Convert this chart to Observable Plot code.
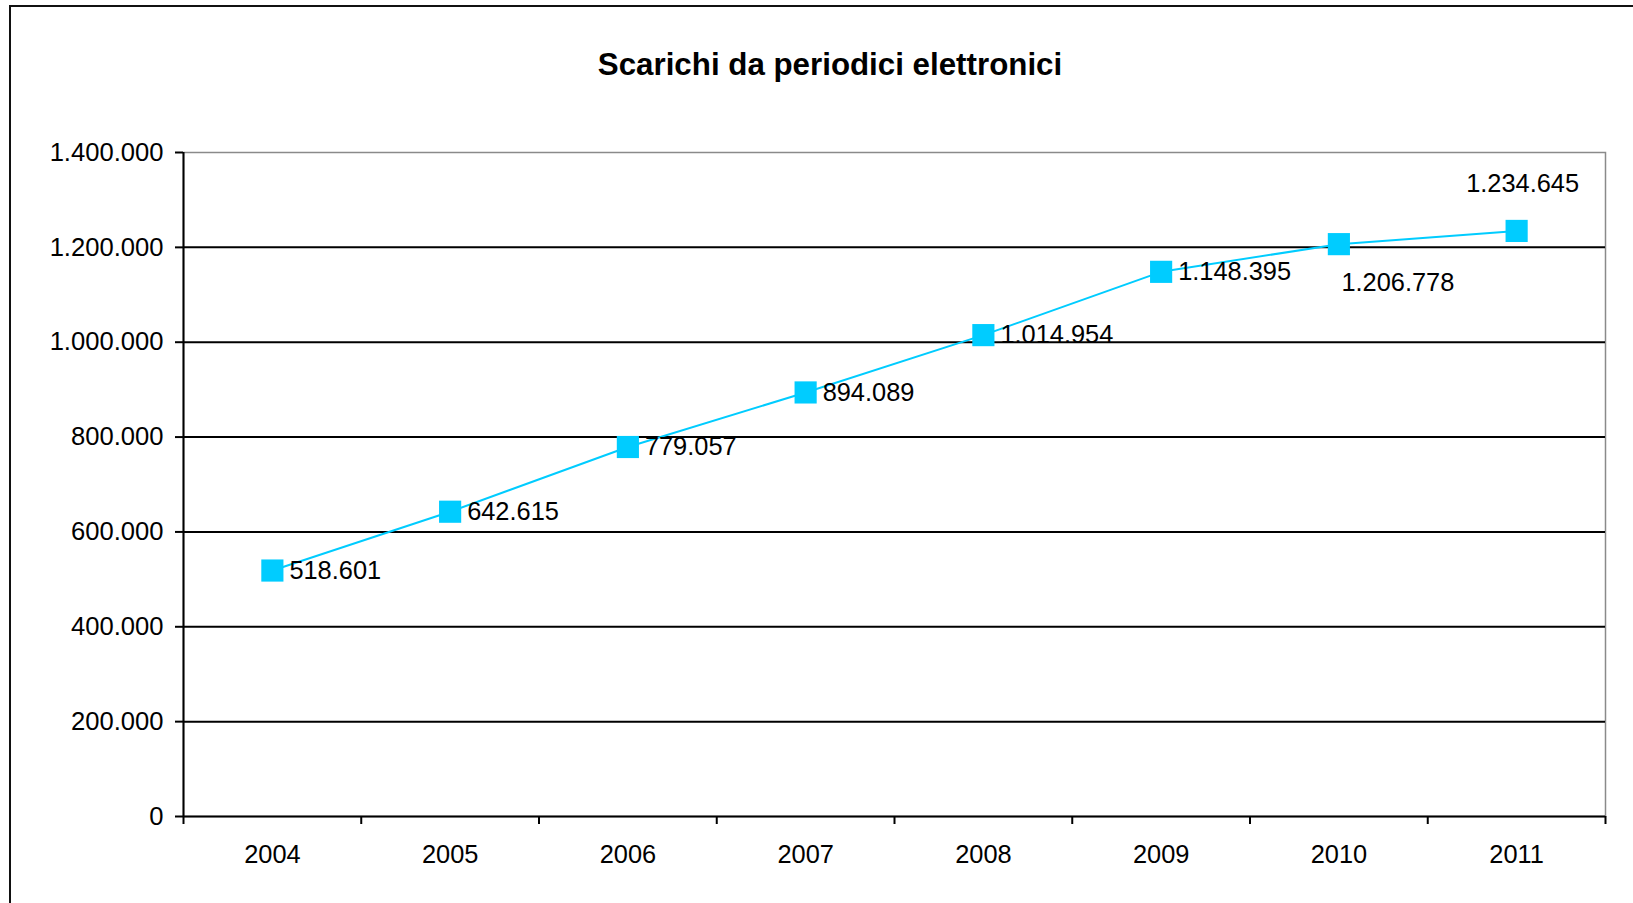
<!DOCTYPE html>
<html>
<head>
<meta charset="utf-8">
<script src="https://cdn.jsdelivr.net/npm/d3@7"></script>
<script src="https://cdn.jsdelivr.net/npm/@observablehq/plot@0.6"></script>
<style>
  html, body { margin: 0; padding: 0; background: #fff; }
  #wrap { position: relative; width: 1633px; height: 903px; overflow: hidden; font-family: "Liberation Sans", Arial, sans-serif; }
  #frame { position: absolute; left: 9px; top: 5px; width: 1700px; height: 1000px; border: 2.5px solid #111; box-sizing: border-box; }
  #title { position: absolute; left: 430px; width: 800px; top: 47px; text-align: center; font-weight: bold; font-size: 31.3px; color: #000; }
  #chart { position: absolute; left: 0; top: 0; }
</style>
</head>
<body>
<div id="wrap">
  <div id="frame"></div>
  <div id="title">Scarichi da periodici elettronici</div>
  <div id="chart"></div>
</div>
<script>
const years = [2004, 2005, 2006, 2007, 2008, 2009, 2010, 2011];
const downloads = [518601, 642615, 779057, 894089, 1014954, 1148395, 1206778, 1234645];
const yTicks = [0, 200000, 400000, 600000, 800000, 1000000, 1200000, 1400000];

const data = years.map((year, i) => ({year, value: downloads[i], i}));
const boundaries = years.map(y => y - 0.5).concat([years[years.length - 1] + 0.5]);

const it = d3.formatLocale({decimal: ",", thousands: ".", grouping: [3]});
const fmt = it.format(",d");

const color = "#00CCFF";
const font = "Liberation Sans, Arial, sans-serif";

const right = data.slice(0, 6);
const below = data.slice(6, 7);
const above = data.slice(7, 8);
const gridTicks = yTicks.slice(0, yTicks.length - 1);

const plot = Plot.plot({
  width: 1633,
  height: 903,
  marginLeft: 183,
  marginRight: 28,
  marginTop: 152,
  marginBottom: 87,
  style: {fontFamily: font, background: "transparent", overflow: "visible"},
  x: {type: "linear", domain: [years[0] - 0.5, years[years.length - 1] + 0.5]},
  y: {domain: [0, 1400000]},
  marks: [
    Plot.frame({stroke: "#8a8a8a", strokeWidth: 1.5}),
    Plot.ruleY(gridTicks, {stroke: "#000", strokeWidth: 2}),
    Plot.ruleX([boundaries[0]], {stroke: "#000", strokeWidth: 2}),
    Plot.axisY({ticks: yTicks, tickFormat: fmt, tickSize: 8, tickPadding: 12, fontSize: 25.6, stroke: "#000", strokeWidth: 2, color: "#000", label: null}),
    Plot.axisX({ticks: boundaries, tickFormat: () => "", tickSize: 8, stroke: "#000", strokeWidth: 2, label: null}),
    Plot.axisX({ticks: years, tickFormat: d => String(d), tickSize: 0, tickPadding: 28, fontSize: 25.4, color: "#000", label: null}),
    Plot.line(data, {x: "year", y: "value", stroke: color, strokeWidth: 2}),
    Plot.dot(data, {x: "year", y: "value", symbol: "square", r: 12.5, fill: color, stroke: "none"}),
    Plot.text(right, {x: "year", y: "value", text: d => fmt(d.value), textAnchor: "start", dx: 17, fontSize: 25.4, fill: "#000"}),
    Plot.text(below, {x: "year", y: "value", text: d => fmt(d.value), textAnchor: "middle", dx: 59, dy: 39, fontSize: 25.4, fill: "#000"}),
    Plot.text(above, {x: "year", y: "value", text: d => fmt(d.value), textAnchor: "middle", dx: 6, dy: -47, fontSize: 25.4, fill: "#000"})
  ]
});
document.getElementById("chart").appendChild(plot);
</script>
</body>
</html>
